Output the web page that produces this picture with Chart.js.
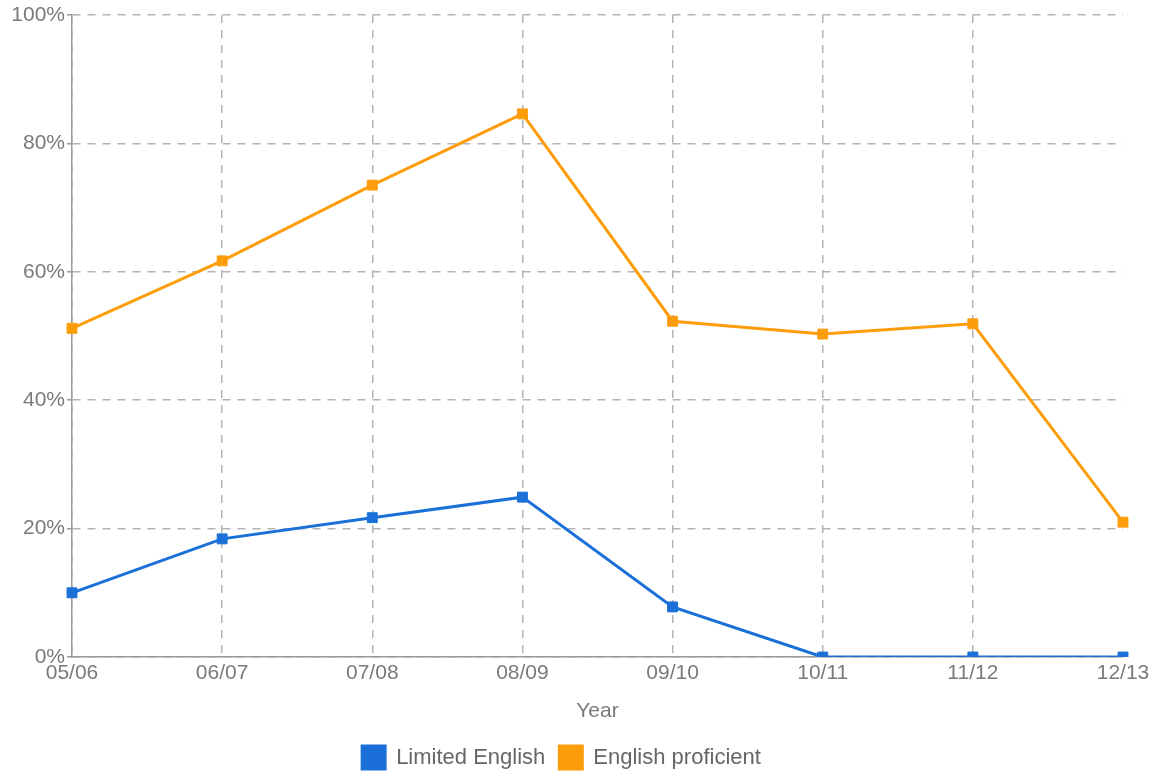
<!DOCTYPE html>
<html>
<head>
<meta charset="utf-8">
<script src="https://cdn.jsdelivr.net/npm/chart.js@4/dist/chart.umd.min.js"></script>
<style>
  html, body { margin: 0; padding: 0; background: #fff; }
  #wrap { width: 1159px; height: 779px; }
</style>
</head>
<body>
<div id="wrap"><canvas id="lineChart" width="1159" height="779"></canvas></div>
<script>
var years = ['05/06', '06/07', '07/08', '08/09', '09/10', '10/11', '11/12', '12/13'];
var limitedEnglish = [10.0, 18.4, 21.7, 24.9, 7.8, 0, 0, 0];
var englishProficient = [51.2, 61.7, 73.5, 84.6, 52.3, 50.3, 51.9, 21.0];
var yTicks = [0, 20, 40, 60, 80, 100];

var blue = '#1a70d8';
var orange = '#fd9d0c';
var gridGray = '#b4b4b4';
var textGray = '#7a7a7a';

Chart.defaults.font.family = 'Arial, "Liberation Sans", sans-serif';
Chart.defaults.font.size = 21;
Chart.defaults.color = textGray;

var ctx = document.getElementById('lineChart').getContext('2d');
var lineChart = new Chart(ctx, {
    type: 'line',
    data: {
        labels: years,
        datasets: [{
            label: 'Limited English',
            data: limitedEnglish,
            borderColor: blue,
            backgroundColor: blue,
            borderWidth: 3,
            pointStyle: 'rect',
            pointRadius: 7,
            pointBorderWidth: 1,
            tension: 0
        }, {
            label: 'English proficient',
            data: englishProficient,
            borderColor: orange,
            backgroundColor: orange,
            borderWidth: 3,
            pointStyle: 'rect',
            pointRadius: 7,
            pointBorderWidth: 1,
            tension: 0
        }]
    },
    options: {
        responsive: false,
        animation: false,
        layout: { padding: { top: 15, right: 36, left: 0, bottom: 0 } },
        plugins: {
            legend: {
                position: 'bottom',
                labels: {
                    boxWidth: 23,
                    boxHeight: 23,
                    padding: 14,
                    color: '#666',
                    font: { size: 22 }
                }
            },
            tooltip: { enabled: false }
        },
        scales: {
            x: {
                grid: {
                    color: function (c) { return c.index === years.length - 1 ? 'rgba(0,0,0,0)' : gridGray; },
                    lineWidth: 1.5,
                    drawTicks: false
                },
                border: { color: '#9a9a9a', width: 1.5, dash: [8, 7] },
                ticks: { padding: 4, maxRotation: 0, autoSkip: false },
                title: {
                    display: true,
                    text: 'Year',
                    color: textGray,
                    font: { size: 21 },
                    padding: { top: 12, bottom: 8 }
                },
                afterFit: function (scale) { scale.height = 75; }
            },
            y: {
                min: 0,
                max: 100,
                afterBuildTicks: function (scale) {
                    scale.ticks = yTicks.map(function (v) { return { value: v }; });
                },
                grid: {
                    color: gridGray,
                    lineWidth: 1.5,
                    tickLength: 5,
                    tickBorderDash: [],
                    tickColor: '#9a9a9a'
                },
                border: { color: '#9a9a9a', width: 1.5, dash: [8, 7] },
                ticks: {
                    padding: 2,
                    callback: function (v) { return v + '%'; }
                },
                afterFit: function (scale) { scale.width = 72; }
            }
        }
    }
});
</script>
</body>
</html>
